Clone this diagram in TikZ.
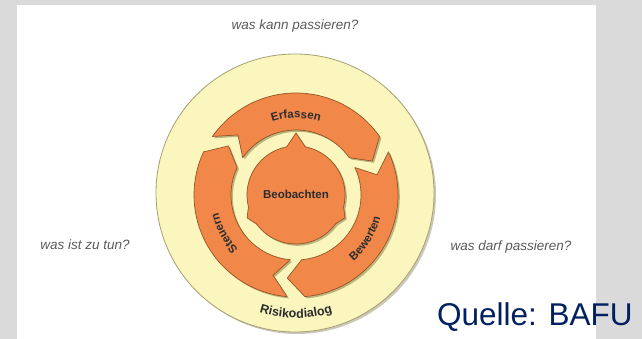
\documentclass[tikz,border=0pt]{standalone}
\usepackage{fontspec}
\setmainfont{Liberation Sans}
\usetikzlibrary{shadows,decorations.text}
\definecolor{bggray}{RGB}{218,218,218}
\definecolor{discyellow}{RGB}{250,246,190}
\definecolor{discedge}{RGB}{165,160,115}
\definecolor{arroworange}{RGB}{241,136,74}
\definecolor{arrowedge}{RGB}{150,85,35}
\definecolor{shadowcol}{RGB}{110,100,50}
\definecolor{labgray}{RGB}{45,45,45}
\definecolor{qgray}{RGB}{90,90,90}
\definecolor{navy}{RGB}{0,32,96}
\newcommand\labfont{\bfseries\fontsize{11.5}{12}\selectfont\color{labgray}}
\begin{document}
\begin{tikzpicture}[x=1pt,y=1pt,
  yellowdisc/.style={fill=discyellow, draw=discedge, line width=0.8pt,
    drop shadow={shadow xshift=2pt, shadow yshift=-2pt, fill=shadowcol, opacity=0.35}},
  orangeshape/.style={fill=arroworange, draw=arrowedge, line width=0.7pt, line join=round,
    drop shadow={shadow xshift=1.8pt, shadow yshift=-1.8pt, fill=shadowcol, opacity=0.45}},
  question/.style={font=\itshape\fontsize{13.5}{14}\selectfont, text=qgray, inner sep=0pt},
  label/.style={font=\labfont, inner sep=0pt},
  arclabel/.style={decorate, decoration={text along path, text align=center}}
]
\useasboundingbox (0,0) rectangle (642,339);
\fill[bggray] (0,0) rectangle (642,339);
\fill[white] (17,0) rectangle (596,334);

% outer disc
\coordinate (Y) at (295,146);
\draw[yellowdisc] (Y) circle[radius=139];

\begin{scope}[shift={(296,144)}]
  % three chevron arrows, clockwise
  \foreach \c in {90,-30,210} {
    \draw[orangeshape] ({\c+55}:102) arc[start angle={\c+55}, end angle={\c-55}, radius=102]
      -- ({\c-66}:83.5) -- ({\c-55}:65)
      arc[start angle={\c-55}, end angle={\c+55}, radius=65]
      -- ({\c+44}:83.5) -- cycle;
  }
  % centre shape with three points
  \draw[orangeshape] (101:49) arc[start angle=101, end angle=194, radius=49]
    -- (205:54) -- (216:49) arc[start angle=216, end angle=324, radius=49]
    -- (335:54) -- (346:49) arc[start angle=-14, end angle=79, radius=49]
    -- (90:62) -- cycle;
  \node[label] (beob) at (0,1) {Beobachten};

  % curved labels
  \path[arclabel, decoration={text={|\labfont|Erfassen}}]
    (135:77) arc[start angle=135, end angle=45, radius=77];
  \path[arclabel, decoration={text={|\labfont|Bewerten}}]
    (-78:87.5) arc[start angle=-78, end angle=14, radius=87.5];
  \path[arclabel, decoration={text={|\labfont|Steuern}}]
    (252:79.5) arc[start angle=252, end angle=164, radius=79.5];
  \path[arclabel, decoration={text={|\bfseries\fontsize{12.5}{13}\selectfont\color{labgray}|Risikodialog}}]
    (238:123) arc[start angle=238, end angle=302, radius=123];
\end{scope}

% questions
\node[question] (q1) at (295,313) {was kann passieren?};
\node[question] (q2) at (85,94) {was ist zu tun?};
\node[question] (q3) at (511,92) {was darf passieren?};

% source
\node[anchor=base west, inner sep=0pt, text=navy, font=\fontsize{31.5}{34}\selectfont] (src) at (437,13) {Quelle: BAFU};
\end{tikzpicture}
\end{document}
